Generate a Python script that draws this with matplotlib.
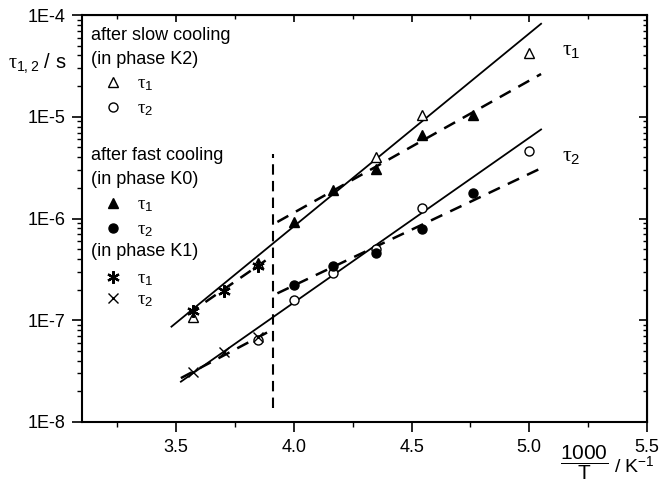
import matplotlib
matplotlib.use('Agg')
import matplotlib.pyplot as plt
import numpy as np
from matplotlib.ticker import FixedLocator, LogLocator, NullFormatter

plt.rcParams['font.family'] = ['Liberation Sans', 'DejaVu Sans']
plt.rcParams['mathtext.fontset'] = 'custom'
plt.rcParams['mathtext.rm'] = 'Liberation Sans'
plt.rcParams['mathtext.it'] = 'Liberation Serif'
plt.rcParams['mathtext.bf'] = 'Liberation Sans:bold'

# ---- data: 1000/T (K^-1) and relaxation times (s) ----
# after slow cooling (phase K2)
k2_x = [3.571, 3.846, 4.348, 4.545, 5.0]
k2_tau1 = [1.07e-7, 3.68e-7, 3.99e-6, 1.04e-5, 4.26e-5]
k2_x2 = [3.846, 4.0, 4.167, 4.348, 4.545, 5.0]
k2_tau2 = [6.4e-8, 1.59e-7, 2.93e-7, 4.97e-7, 1.26e-6, 4.65e-6]
# after fast cooling (phase K0)
k0_x = [4.0, 4.167, 4.348, 4.545, 4.762]
k0_tau1 = [9.3e-7, 1.9e-6, 3.04e-6, 6.6e-6, 1.04e-5]
k0_tau2 = [2.2e-7, 3.41e-7, 4.55e-7, 7.8e-7, 1.77e-6]
# phase K1
k1_x = [3.571, 3.704, 3.846]
k1_tau1 = [1.24e-7, 1.95e-7, 3.41e-7]
k1_tau2 = [3.12e-8, 4.9e-8, 6.8e-8]

# fit lines (end points)
fit_k2_tau1_x = [3.48, 5.05]
fit_k2_tau1_y = [8.65e-8, 8.2e-5]
fit_k2_tau2_x = [3.52, 5.05]
fit_k2_tau2_y = [2.49e-8, 7.5e-6]
fit_k0_tau1_x = [3.93, 5.05]
fit_k0_tau1_y = [9.25e-7, 2.63e-5]
fit_k0_tau2_x = [3.93, 5.07]
fit_k0_tau2_y = [1.84e-7, 3.28e-6]
fit_k1_tau1_x = [3.55, 3.88]
fit_k1_tau1_y = [1.15e-7, 3.87e-7]
fit_k1_tau2_x = [3.52, 3.91]
fit_k1_tau2_y = [2.7e-8, 8.1e-8]
# phase boundary
x_boundary = 3.91
y_boundary = [1.36e-8, 4.3e-6]

xticks = [3.5, 4.0, 4.5, 5.0, 5.5]
yticks = [1e-8, 1e-7, 1e-6, 1e-5, 1e-4]
ytick_labels = ['1E-8', '1E-7', '1E-6', '1E-5', '1E-4']

fig = plt.figure(figsize=(6.59, 4.82), dpi=100)
ax = fig.add_axes([82/659, 60/482, 565/659, 407/482])

dash = (0, (5, 3.5))
ax.plot(fit_k2_tau1_x, fit_k2_tau1_y, '-', color='black', lw=1.3)
ax.plot(fit_k2_tau2_x, fit_k2_tau2_y, '-', color='black', lw=1.3)
ax.plot(fit_k0_tau1_x, fit_k0_tau1_y, linestyle=dash, color='black', lw=1.8)
ax.plot(fit_k0_tau2_x, fit_k0_tau2_y, linestyle=dash, color='black', lw=1.8)
ax.plot(fit_k1_tau1_x, fit_k1_tau1_y, linestyle=dash, color='black', lw=1.8)
ax.plot(fit_k1_tau2_x, fit_k1_tau2_y, linestyle=dash, color='black', lw=1.8)
ax.plot([x_boundary, x_boundary], y_boundary, linestyle=(0, (5, 3)), color='black', lw=1.5)

ast = (6, 2, 0)
sty_open = dict(linestyle='none', mfc='white', mec='black', mew=1.0, zorder=3)
sty_fill = dict(linestyle='none', mfc='black', mec='black', mew=1.0, zorder=3)
sty_ast = dict(linestyle='none', mfc='black', mec='black', mew=1.6, zorder=3)
ax.plot(k2_x, k2_tau1, '^', ms=7.5, **sty_open)
ax.plot(k2_x2, k2_tau2, 'o', ms=6.5, **sty_open)
ax.plot(k0_x, k0_tau1, '^', ms=7.5, **sty_fill)
ax.plot(k0_x, k0_tau2, 'o', ms=6.5, **sty_fill)
ax.plot(k1_x, k1_tau1, marker=ast, ms=9, **sty_ast)
ax.plot(k1_x, k1_tau2, 'x', ms=7.5, **sty_fill)

ax.set_yscale('log')
ax.set_xlim(3.1, 5.5)
ax.set_ylim(1e-8, 1e-4)
ax.set_xticks(xticks)
ax.set_xticklabels(['3.5', '4.0', '4.5', '5.0', '5.5'])
ax.xaxis.set_minor_locator(FixedLocator([3.25, 3.75, 4.25, 4.75, 5.25]))
ax.set_yticks(yticks)
ax.set_yticklabels(ytick_labels)
ax.yaxis.set_minor_locator(LogLocator(base=10, subs=np.arange(2, 10)))
ax.yaxis.set_minor_formatter(NullFormatter())
ax.tick_params(which='major', direction='out', length=7, width=1.2, labelsize=13, pad=5)
ax.tick_params(which='minor', direction='out', length=3.5, width=1.0)
for sp in ax.spines.values():
    sp.set_linewidth(1.5)

# mirrored ticks pointing inward on top and right
top = ax.secondary_xaxis('top')
top.set_xticks(xticks)
top.xaxis.set_minor_locator(FixedLocator([3.25, 3.75, 4.25, 4.75, 5.25]))
top.tick_params(which='major', direction='in', length=5, width=1.2, labeltop=False)
top.tick_params(which='minor', direction='in', length=3, width=1.0)
right = ax.secondary_yaxis('right')
right.set_yticks(yticks)
right.yaxis.set_minor_locator(LogLocator(base=10, subs=np.arange(2, 10)))
right.yaxis.set_minor_formatter(NullFormatter())
right.tick_params(which='major', direction='in', length=6, width=1.2, labelright=False)
right.tick_params(which='minor', direction='in', length=3, width=1.0)

# legend block
W, H = 565.0, 407.0
def fx(px):
    return (px - 82) / W
def fy(py):
    return (422 - py) / H

tfs = 13
ax.text(fx(91), fy(35), 'after slow cooling', transform=ax.transAxes, fontsize=tfs, va='center')
ax.text(fx(91), fy(60), '(in phase K2)', transform=ax.transAxes, fontsize=tfs, va='center')
ax.text(fx(91), fy(155), 'after fast cooling', transform=ax.transAxes, fontsize=tfs, va='center')
ax.text(fx(91), fy(180), '(in phase K0)', transform=ax.transAxes, fontsize=tfs, va='center')
ax.text(fx(91), fy(251), '(in phase K1)', transform=ax.transAxes, fontsize=tfs, va='center')

leg_rows = [
    (82, '^', sty_open, 7.5, r'$\tau_1$'),
    (107, 'o', sty_open, 6.5, r'$\tau_2$'),
    (203, '^', sty_fill, 7.5, r'$\tau_1$'),
    (228, 'o', sty_fill, 6.5, r'$\tau_2$'),
    (277, ast, sty_ast, 9, r'$\tau_1$'),
    (298, 'x', sty_fill, 7.5, r'$\tau_2$'),
]
for py, mk, sty, ms, lab in leg_rows:
    ax.plot([fx(113)], [fy(py)], marker=mk, ms=ms, transform=ax.transAxes,
            clip_on=False, **sty)
    ax.text(fx(137), fy(py) - 0.005, lab, transform=ax.transAxes, fontsize=13.5, va='center')

ax.text(fx(562), fy(50), r'$\tau_1$', transform=ax.transAxes, fontsize=15.5, va='center')
ax.text(fx(562), fy(155), r'$\tau_2$', transform=ax.transAxes, fontsize=15.5, va='center')

# axis labels
fig.text(8/659, 1 - 63/482, r'$\tau_{1,2}$ / s', fontsize=14.5, va='center', ha='left')
fig.text(584/659, 1 - 463/482, r'$\dfrac{\mathrm{1000}}{\mathrm{T}}$', fontsize=15,
         va='center', ha='center')
fig.text(614/659, 1 - 467/482, r'/ K$^{-1}$', fontsize=14, va='center', ha='left')

fig.savefig('out.png', dpi=100)
